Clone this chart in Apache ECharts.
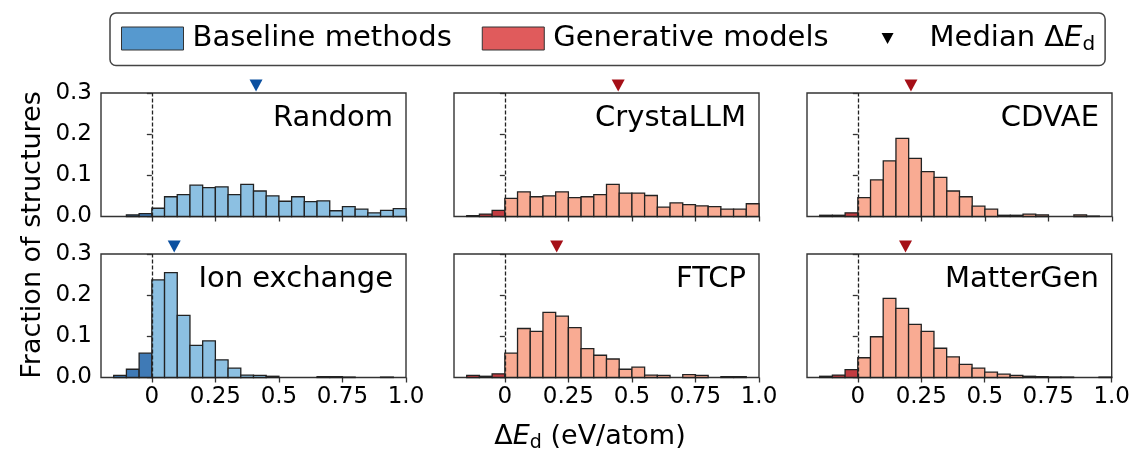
<!DOCTYPE html>
<html>
<head>
<meta charset="UTF-8">
<title>Decomposition energy histograms</title>
<script src="https://cdn.jsdelivr.net/npm/echarts@6/dist/echarts.min.js"></script>
<style>
    html, body { margin: 0; padding: 0; background: #fff; }
    #chart { width: 1133px; height: 450px; }
</style>
</head>
<body>
<div id="chart"></div>
<script>
// left edge of each histogram bin (eV/atom), bins are 0.05 wide
var binStarts = [-0.15, -0.1, -0.05, 0, 0.05, 0.1, 0.15, 0.2, 0.25, 0.3, 0.35, 0.4,
    0.45, 0.5, 0.55, 0.6, 0.65, 0.7, 0.75, 0.8, 0.85, 0.9, 0.95];
var binWidth = 0.05;

var panelNames = ['Random', 'CrystaLLM', 'CDVAE', 'Ion exchange', 'FTCP', 'MatterGen'];
var panelGroups = ['Baseline methods', 'Generative models', 'Generative models',
    'Baseline methods', 'Generative models', 'Generative models'];

// fraction of structures per bin
var randomVals = [0, 0.004, 0.007, 0.020, 0.048, 0.053, 0.076, 0.070, 0.072, 0.053, 0.078, 0.062,
    0.050, 0.037, 0.048, 0.036, 0.038, 0.014, 0.024, 0.018, 0.009, 0.015, 0.019];
var crystallmVals = [0.002, 0.006, 0.015, 0.044, 0.060, 0.048, 0.050, 0.060, 0.046, 0.048, 0.053, 0.078,
    0.057, 0.057, 0.051, 0.023, 0.033, 0.029, 0.026, 0.024, 0.018, 0.018, 0.031];
var cdvaeVals = [0.003, 0.003, 0.009, 0.046, 0.089, 0.135, 0.190, 0.141, 0.109, 0.095, 0.062, 0.048,
    0.025, 0.018, 0.003, 0.003, 0.006, 0.004, 0, 0, 0.004, 0.001, 0];
var ionExchangeVals = [0.005, 0.020, 0.059, 0.237, 0.255, 0.151, 0.078, 0.089, 0.043, 0.023, 0.006, 0.005,
    0.003, 0, 0, 0, 0.002, 0.002, 0.001, 0, 0, 0.001, 0];
var ftcpVals = [0.005, 0.003, 0.009, 0.059, 0.119, 0.112, 0.158, 0.149, 0.121, 0.070, 0.054, 0.045,
    0.020, 0.025, 0.006, 0.005, 0, 0.007, 0.005, 0, 0.002, 0.002, 0];
var mattergenVals = [0.003, 0.006, 0.019, 0.048, 0.099, 0.192, 0.168, 0.129, 0.112, 0.071, 0.050, 0.032,
    0.023, 0.013, 0.008, 0.005, 0.003, 0.002, 0.001, 0.001, 0, 0, 0.001];
var panelVals = [randomVals, crystallmVals, cdvaeVals, ionExchangeVals, ftcpVals, mattergenVals];

var medians = [0.41, 0.446, 0.209, 0.088, 0.204, 0.188];

var xTicks = [0, 0.25, 0.5, 0.75, 1.0];
var xTickLabels = ['0', '0.25', '0.5', '0.75', '1.0'];

var FONT = 'DejaVu Sans';
var colors = {
    'Baseline methods': { pos: '#8cc0e2', neg: '#3f7ab6', legend: '#5699cf', median: '#0b50a0' },
    'Generative models': { pos: '#f9ab93', neg: '#c23c41', legend: '#e05b5c', median: '#a50f17' }
};

var lefts = [101, 454, 807];
var tops = [93, 254];
var gw = 305, gh = 123.5;

function makeRender(c) {
    return function (params, api) {
        var x0 = api.value(0), x1 = api.value(1), h = api.value(2);
        if (!h) return null;
        var a = api.coord([x0, h]);
        var b = api.coord([x1, 0]);
        return {
            type: 'rect',
            shape: { x: a[0], y: a[1], width: b[0] - a[0], height: b[1] - a[1] },
            style: { fill: x0 < 0 ? c.neg : c.pos, stroke: '#222', lineWidth: 1.3 }
        };
    };
}

var grids = [], xAxes = [], yAxes = [], series = [], graphics = [];

for (var i = 0; i < 6; i++) {
    var row = Math.floor(i / 3), col = i % 3;
    var grp = panelGroups[i];
    var c = colors[grp];
    grids.push({
        left: lefts[col], top: tops[row], width: gw, height: gh,
        show: true, borderColor: '#333', borderWidth: 1.4, backgroundColor: '#fff'
    });
    xAxes.push({
        gridIndex: i, type: 'value', min: -0.2, max: 1.0,
        axisLine: { show: false },
        splitLine: { show: false },
        axisTick: { show: true, length: 5, customValues: xTicks, lineStyle: { color: '#333', width: 1.3 } },
        axisLabel: {
            show: row === 1, customValues: xTicks, fontSize: 23, margin: 8, color: '#000',
            fontFamily: FONT,
            formatter: function (v) { return xTickLabels[xTicks.indexOf(v)]; }
        }
    });
    yAxes.push({
        gridIndex: i, type: 'value', min: 0, max: 0.3, interval: 0.1,
        axisLine: { show: false },
        splitLine: { show: false },
        axisTick: { show: true, length: 5, lineStyle: { color: '#333', width: 1.3 } },
        axisLabel: {
            show: col === 0, fontSize: 23, margin: 9, color: '#000', fontFamily: FONT,
            formatter: function (v) { return v.toFixed(1); }
        }
    });
    var vals = panelVals[i];
    series.push({
        name: grp, type: 'custom', xAxisIndex: i, yAxisIndex: i,
        renderItem: makeRender(c),
        encode: { x: [0, 1], y: 2 },
        itemStyle: { color: c.legend },
        data: binStarts.map(function (s, k) { return [s, +(s + binWidth).toFixed(2), vals[k]]; })
    });
    series.push({
        name: 'Median', type: 'scatter', xAxisIndex: i, yAxisIndex: i,
        symbol: 'triangle', symbolRotate: 180, symbolSize: [13, 12], clip: false, z: 5,
        itemStyle: { color: c.median, opacity: 1 },
        data: [[medians[i], 0.318]],
        markLine: {
            silent: true, symbol: 'none', label: { show: false },
            lineStyle: { type: [4, 2], color: '#222', width: 1.3 },
            data: [{ xAxis: 0 }]
        }
    });
    graphics.push({
        type: 'text', x: lefts[col] + gw - 13, y: tops[row] + 25, z: 10,
        style: { text: panelNames[i], font: '29px "DejaVu Sans"', fill: '#000', align: 'right', verticalAlign: 'middle' }
    });
}

graphics.push({
    type: 'text', x: 33, y: 235, rotation: Math.PI / 2,
    style: { text: 'Fraction of structures', font: '27px "DejaVu Sans"', fill: '#000', align: 'center', verticalAlign: 'middle' }
});
graphics.push({
    type: 'text', x: 590, y: 437,
    style: {
        text: 'Δ{e|E}{d|d} (eV/atom)', font: '27px "DejaVu Sans"', fill: '#000',
        align: 'center', verticalAlign: 'middle',
        rich: {
            e: { fontSize: 27, fontStyle: 'italic', fontFamily: FONT },
            d: { fontSize: 19, fontFamily: FONT, padding: [12, 0, 0, 0] }
        }
    }
});

var chart = echarts.init(document.getElementById('chart'));
chart.setOption({
    animation: false,
    textStyle: { fontFamily: FONT },
    legend: {
        left: 110, top: 13,
        selectedMode: false,
        itemWidth: 62, itemHeight: 23, itemGap: 30,
        padding: [11, 10, 11, 11],
        borderColor: '#444', borderWidth: 1.5, borderRadius: 6,
        textStyle: {
            fontSize: 29, color: '#000', fontFamily: FONT, padding: [0, 0, 0, 4],
            rich: {
                e: { fontSize: 29, fontStyle: 'italic', fontFamily: FONT },
                d: { fontSize: 20, fontFamily: FONT, padding: [12, 0, 0, 0] }
            }
        },
        formatter: function (name) {
            return name === 'Median' ? 'Median Δ{e|E}{d|d}' : name;
        },
        data: [
            { name: 'Baseline methods', icon: 'rect', itemStyle: { color: colors['Baseline methods'].legend, borderColor: '#333', borderWidth: 1 } },
            { name: 'Generative models', icon: 'rect', itemStyle: { color: colors['Generative models'].legend, borderColor: '#333', borderWidth: 1 } },
            { name: 'Median', icon: 'path://M0,0L0,23L0,0Z M62,0L62,23L62,0Z M23,6L35,6L29,17Z', itemStyle: { color: '#000', borderWidth: 0 } }
        ]
    },
    grid: grids,
    xAxis: xAxes,
    yAxis: yAxes,
    series: series,
    graphic: graphics
});
</script>
</body>
</html>
